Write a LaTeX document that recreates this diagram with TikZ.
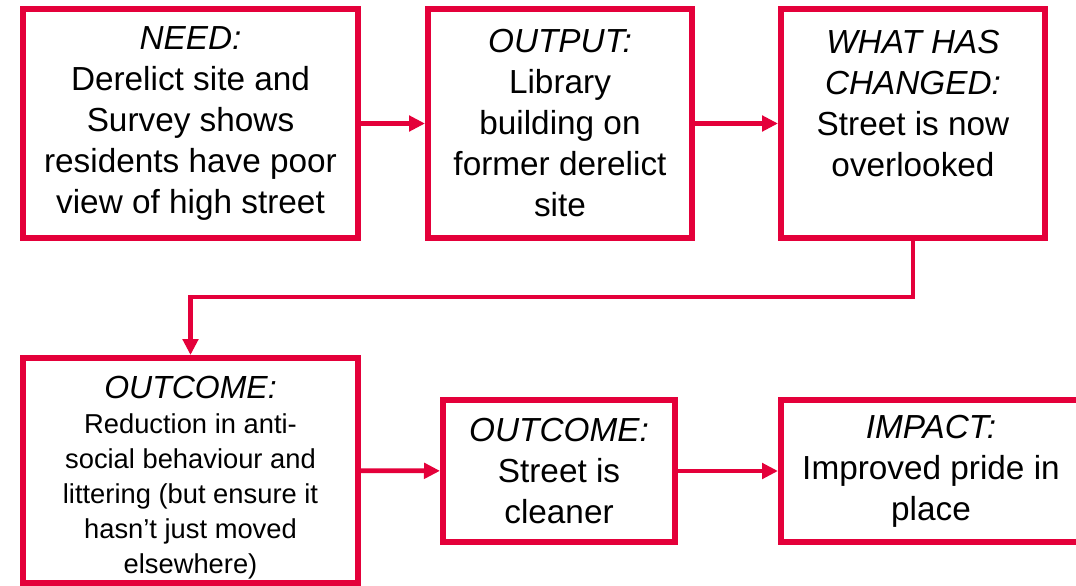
\documentclass[tikz,border=0pt]{standalone}
\usepackage{fontspec}
\setmainfont{Liberation Sans}
\usetikzlibrary{arrows.meta}
\definecolor{rougeCadre}{RGB}{228,0,58}
\tikzset{
    boite/.style={draw=rougeCadre, line width=4.5pt, fill=white, align=center,
        inner sep=0pt, font=\fontsize{25}{30.75}\selectfont},
    fleche/.style={draw=rougeCadre, line width=3.6pt,
        -{Triangle[length=12pt, width=11.5pt]}}
}
\begin{document}
\begin{tikzpicture}[x=0.75pt, y=-0.75pt]
        % Cadre de la page (en pixels)
        \clip (0,0) rectangle (1076,586);
        \fill[white] (0,0) rectangle (1076,586);

        % Rangée du haut
        \node[boite, minimum width=251.25pt, minimum height=171.75pt] (need) at (190.5,123.5)
            {\textit{NEED:}\\Derelict site and\\Survey shows\\residents have poor\\view of high street};
        \node[boite, minimum width=198pt, minimum height=171.75pt] (output) at (560,123.5)
            {\textit{OUTPUT:}\\Library\\building on\\former derelict\\site};
        \node[boite, minimum width=198pt, minimum height=171.75pt] (changed) at (913,123.5)
            {\textit{WHAT HAS}\\\textit{CHANGED:}\\Street is now\\overlooked\\\rule{0pt}{18pt}}; % texte calé en haut

        % Rangée du bas
        \node[boite, font=\fontsize{20.5}{26.25}\selectfont, minimum width=251.25pt, minimum height=168.75pt] (outcomeA) at (190.5,470.5)
            {\rule{0pt}{27pt}{\fontsize{24}{26.25}\selectfont\textit{OUTCOME:}}\\Reduction in anti-\\social behaviour and\\littering (but ensure it\\hasn’t just moved\\elsewhere)};
        \node[boite, minimum width=174pt, minimum height=106.5pt] (outcomeB) at (559,471)
            {\textit{OUTCOME:}\\Street is\\cleaner};
        \node[boite, minimum width=225pt, minimum height=106.5pt] (impact) at (931,471)
            {\textit{IMPACT:}\\Improved pride in\\place}; % coupé à droite

        % Flèches
        \coordinate (coude) at (552,297);
        \draw[fleche] (need) -- (output);
        \draw[fleche] (output) -- (changed);
        \draw[fleche] (changed.south) |- (coude) -| (outcomeA.north);
        \draw[fleche] (outcomeA) -- (outcomeB);
        \draw[fleche] (outcomeB) -- (impact);
    \end{tikzpicture}
\end{document}
